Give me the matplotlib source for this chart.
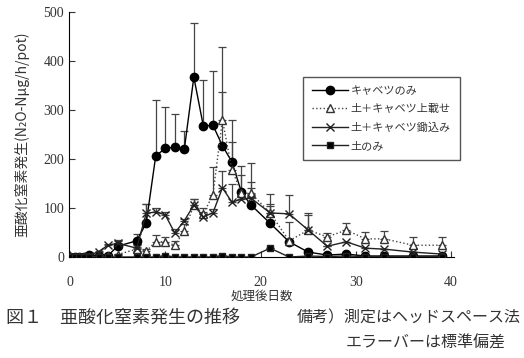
import matplotlib
matplotlib.use("Agg")
import matplotlib.pyplot as plt
import numpy as np

plt.rcParams["font.family"] = ["Noto Sans CJK JP", "DejaVu Sans"]

# days after treatment
days = [0, 0.5, 1, 1.5, 2, 3, 4, 5, 7, 8, 9, 10, 11, 12, 13, 14, 15, 16, 17, 18, 19,
        21, 23, 25, 27, 29, 31, 33, 36, 39]

# キャベツのみ
cabbage = [0, 0, 0, 1, 4, 3, 3, 22, 33, 69, 206, 222, 224, 220, 367, 267, 269, 227, 194, 132, 106,
           69, 31, 10, 4, 6, 2, 2, 2, 2]
cabbage_sd = [0, 0, 0, 0, 2, 3, 3, 10, 14, 40, 115, 85, 68, 38, 110, 95, 110, 110, 86, 35, 48,
              40, 40, 0, 0, 3, 0, 0, 0, 0]

# 土＋キャベツ上載せ
top = [0, 0, 0, 0, 1, 1, 2, 5, 16, 12, 31, 31, 24, 53, 106, 88, 127, 280, 178, 130, 130,
       90, 33, 55, 41, 55, 37, 37, 24, 24]
top_sd = [0, 0, 0, 0, 0, 0, 0, 2, 5, 4, 14, 10, 8, 15, 12, 12, 57, 149, 57, 55, 62,
          38, 0, 31, 8, 15, 14, 16, 17, 17]

# 土＋キャベツ鋤込み
mixed = [0, 0, 0, 1, 3, 11, 24, 28, 18, 89, 92, 86, 49, 74, 106, 82, 90, 141, 112, 118, 120,
         90, 88, 55, 22, 31, 18, 16, 10, 6]
mixed_sd = [0, 0, 0, 0, 0, 2, 3, 6, 8, 20, 8, 6, 8, 4, 12, 10, 8, 35, 38, 15, 20,
            15, 39, 35, 0, 0, 0, 0, 0, 0]

# 土のみ
soil = [0, 0, 0, 0, 0, 0, 0, 0, 0, 0, 0, 3, 0, 0, 0, 0, 0, 3, 0, 0, 0,
        18, 0, 2, 1, 2, 1, 1, 1, 1]
soil_sd = [0] * len(days)

labels = ["キャベツのみ", "土＋キャベツ上載せ", "土＋キャベツ鋤込み", "土のみ"]

fig = plt.figure(figsize=(5.24, 3.58), dpi=100)
ax = fig.add_axes([69 / 524, 1 - 257 / 358, 385 / 524, 245 / 358])

series = [
    (cabbage, cabbage_sd, dict(color="black", linestyle="-", marker="o", markersize=6,
                               markerfacecolor="black")),
    (top, top_sd, dict(color="#444444", linestyle=":", marker="^", markersize=6,
                       markerfacecolor="white", markeredgecolor="#333333")),
    (mixed, mixed_sd, dict(color="#222222", linestyle="-", marker="x", markersize=6,
                           markeredgewidth=1.0)),
    (soil, soil_sd, dict(color="#222222", linestyle="-", marker="s", markersize=5,
                         markerfacecolor="black")),
]

zero = np.zeros(len(days))
for (vals, sd, style), lab in zip(series, labels):
    ax.errorbar(days, vals, yerr=[zero, sd], fmt="none", ecolor="#444444",
                elinewidth=0.9, capsize=3, capthick=0.9, zorder=2)
    ax.plot(days, vals, linewidth=1.0, label=lab, zorder=3, **style)

ax.set_xlim(-0.1, 40.3)
ax.set_ylim(0, 500)
ax.set_xticks([0, 10, 20, 30, 40])
ax.set_yticks([0, 100, 200, 300, 400, 500])
ax.spines["top"].set_visible(False)
ax.spines["right"].set_visible(False)
ax.tick_params(direction="in", length=4, colors="#333333", labelcolor="#333333")
ax.tick_params(axis="x", pad=14)
for t in ax.get_xticklabels() + ax.get_yticklabels():
    t.set_fontfamily("Liberation Serif")
    t.set_fontsize(10)

ax.set_xlabel("処理後日数", fontsize=9, color="#333333", labelpad=0)
ax.set_ylabel("亜酸化窒素発生(N₂O-Nμg/h/pot)", fontsize=10, color="#333333", labelpad=10)

leg = ax.legend(loc="upper left", bbox_to_anchor=(0.608, 0.735), borderaxespad=0,
                fancybox=False, edgecolor="#555555", fontsize=8, handlelength=3.2,
                labelspacing=0.75, borderpad=0.8, handletextpad=0.3, framealpha=1)
leg.get_frame().set_linewidth(1.0)
for t in leg.get_texts():
    t.set_color("#333333")

fig.text(6 / 524, 1 - 318 / 358, "図１　亜酸化窒素発生の推移", fontsize=13,
         color="#333333", va="center")
fig.text(521 / 524, 1 - 318 / 358, "備考）測定はヘッドスペース法", fontsize=11.5,
         color="#333333", va="center", ha="right")
fig.text(506 / 524, 1 - 343 / 358, "エラーバーは標準偏差", fontsize=11.5,
         color="#333333", va="center", ha="right")

fig.savefig("out.png", dpi=100)
